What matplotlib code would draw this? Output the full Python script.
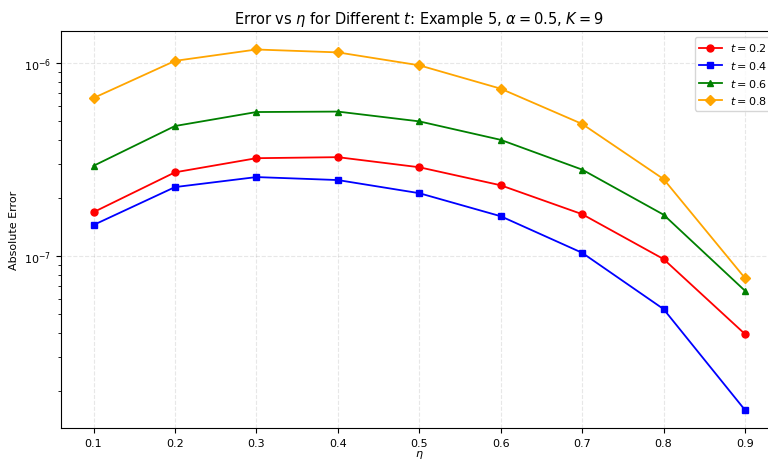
import matplotlib
matplotlib.use('Agg')
import matplotlib.pyplot as plt

# valores de eta
eta = [0.1, 0.2, 0.3, 0.4, 0.5, 0.6, 0.7, 0.8, 0.9]

# error absoluto para cada t
err_t02 = [1.69e-7, 2.72e-7, 3.22e-7, 3.26e-7, 2.89e-7, 2.33e-7, 1.65e-7, 9.65e-8, 3.94e-8]
err_t04 = [1.45e-7, 2.28e-7, 2.57e-7, 2.48e-7, 2.12e-7, 1.61e-7, 1.04e-7, 5.31e-8, 1.59e-8]
err_t06 = [2.94e-7, 4.73e-7, 5.59e-7, 5.62e-7, 5.00e-7, 4.01e-7, 2.81e-7, 1.64e-7, 6.61e-8]
err_t08 = [6.61e-7, 1.03e-6, 1.18e-6, 1.14e-6, 9.77e-7, 7.39e-7, 4.85e-7, 2.51e-7, 7.69e-8]

series = [(err_t02, 'red', 'o', r'$t = 0.2$'),
          (err_t04, 'blue', 's', r'$t = 0.4$'),
          (err_t06, 'green', '^', r'$t = 0.6$'),
          (err_t08, 'orange', 'D', r'$t = 0.8$')]

fig = plt.figure(figsize=(7.68, 4.6), dpi=100)
ax = fig.add_axes([0.0794, 0.0674, 0.933, 0.862])

for vals, col, mk, lab in series:
    ax.plot(eta, vals, color=col, marker=mk, markersize=5, linewidth=1.3, label=lab)

ax.set_yscale('log')
ax.set_xticks(eta)
ax.tick_params(labelsize=8)
ax.set_xlabel(r'$\eta$', fontsize=8, labelpad=0)
ax.set_ylabel('Absolute Error', fontsize=8)
ax.set_title(r'Error vs $\eta$ for Different $t$: Example 5, $\alpha = 0.5$, $K = 9$', fontsize=10.5)
ax.grid(True, linestyle='--', alpha=0.3)
ax.legend(loc='upper right', fontsize=8)

fig.savefig('out.png', dpi=100)
